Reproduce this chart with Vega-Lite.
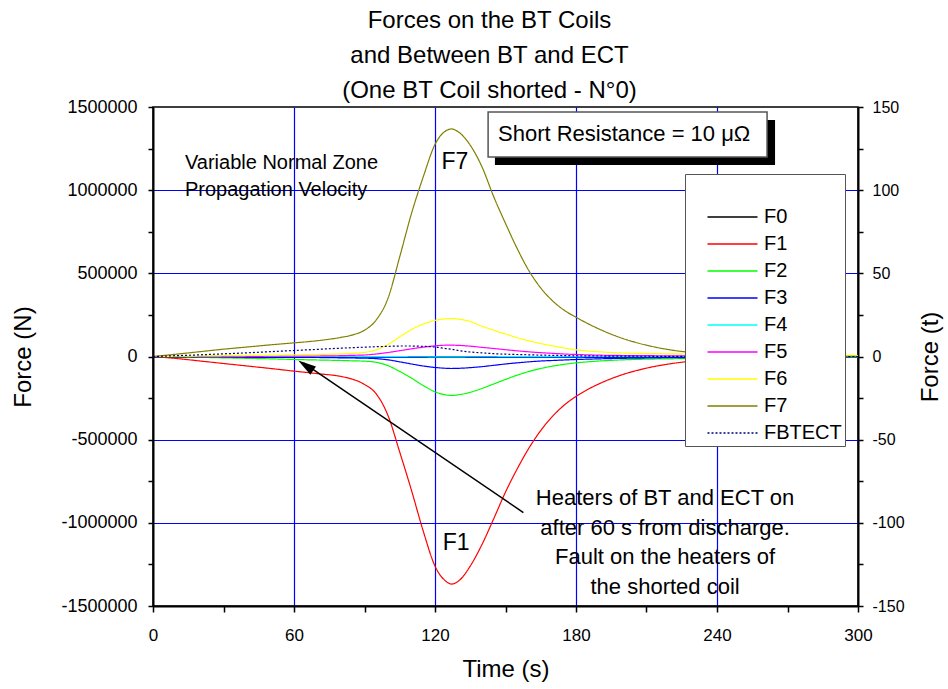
{
  "$schema": "https://vega.github.io/schema/vega-lite/v6.json",
  "width": 705,
  "height": 499,
  "autosize": {"type": "none"},
  "padding": {"left": 153, "top": 107, "right": 90, "bottom": 83},
  "background": "white",
  "title": {
    "text": ["Forces on the BT Coils", "and Between BT and ECT", "(One BT Coil shorted - N°0)"],
    "font": "Liberation Sans",
    "fontSize": 24,
    "fontWeight": "normal",
    "color": "#000",
    "anchor": "middle",
    "dx": -16,
    "offset": -5,
    "lineHeight": 35
  },
  "config": {
    "font": "Liberation Sans",
    "view": {"stroke": "#000", "strokeWidth": 1.5},
    "axis": {
      "domainColor": "#000",
      "domainWidth": 2,
      "tickColor": "#000",
      "tickWidth": 1.5,
      "labelColor": "#000",
      "titleColor": "#000",
      "titleFontWeight": "normal",
      "labelFont": "Liberation Sans",
      "titleFont": "Liberation Sans",
      "gridColor": "#0000ff",
      "gridWidth": 1.2
    },
    "legend": {
      "fillColor": "#ffffff",
      "strokeColor": "#555555",
      "padding": 3,
      "labelFont": "Liberation Sans",
      "labelFontSize": 20,
      "labelColor": "#000",
      "symbolType": "M-5,0H5",
      "symbolSize": 100,
      "symbolStrokeWidth": 1.5,
      "symbolOffset": 34.5,
      "labelOffset": 21.5,
      "rowPadding": 7,
      "titleFontSize": 19,
      "titlePadding": 11,
      "labelLimit": 300,
      "titleLimit": 400
    }
  },
  "datasets": {
    "forces": [
      {"t": 0, "F0": 0, "F1": 0, "F2": 0, "F3": 0, "F4": 0, "F5": 0, "F6": 0, "F7": 0, "FBTECT": 0},
      {"t": 10, "F0": 0, "F1": -12000, "F2": -2000, "F3": -1000, "F4": 0, "F5": 0, "F6": 1500, "F7": 14000, "FBTECT": 5000},
      {"t": 20, "F0": 0, "F1": -27000, "F2": -5000, "F3": -2000, "F4": 0, "F5": 0, "F6": 3000, "F7": 29000, "FBTECT": 10000},
      {"t": 30, "F0": 0, "F1": -42000, "F2": -8000, "F3": -2500, "F4": 0, "F5": 500, "F6": 4500, "F7": 44000, "FBTECT": 16000},
      {"t": 40, "F0": 0, "F1": -57000, "F2": -11000, "F3": -3000, "F4": 0, "F5": 1000, "F6": 6000, "F7": 57000, "FBTECT": 22000},
      {"t": 50, "F0": 0, "F1": -72000, "F2": -14000, "F3": -4000, "F4": 0, "F5": 1500, "F6": 8000, "F7": 70000, "FBTECT": 29000},
      {"t": 60, "F0": 0, "F1": -88000, "F2": -18000, "F3": -5000, "F4": 0, "F5": 2000, "F6": 10000, "F7": 82000, "FBTECT": 36000},
      {"t": 70, "F0": 0, "F1": -103000, "F2": -21000, "F3": -6000, "F4": 0, "F5": 3000, "F6": 12000, "F7": 95000, "FBTECT": 43000},
      {"t": 80, "F0": 0, "F1": -120000, "F2": -24000, "F3": -8000, "F4": 0, "F5": 5000, "F6": 16000, "F7": 115000, "FBTECT": 50000},
      {"t": 85, "F0": 0, "F1": -137000, "F2": -26000, "F3": -9000, "F4": 0, "F5": 7000, "F6": 19000, "F7": 130000, "FBTECT": 53000},
      {"t": 90, "F0": 0, "F1": -168000, "F2": -28000, "F3": -10000, "F4": -500, "F5": 9000, "F6": 25000, "F7": 158000, "FBTECT": 56000},
      {"t": 95, "F0": 0, "F1": -225000, "F2": -35000, "F3": -13000, "F4": -500, "F5": 15000, "F6": 40000, "F7": 220000, "FBTECT": 59000},
      {"t": 100, "F0": 0, "F1": -355000, "F2": -55000, "F3": -20000, "F4": -1000, "F5": 24000, "F6": 72000, "F7": 350000, "FBTECT": 61000},
      {"t": 105, "F0": 0, "F1": -575000, "F2": -90000, "F3": -32000, "F4": -1000, "F5": 35000, "F6": 118000, "F7": 600000, "FBTECT": 63000},
      {"t": 110, "F0": 0, "F1": -805000, "F2": -130000, "F3": -45000, "F4": -1500, "F5": 46000, "F6": 162000, "F7": 860000, "FBTECT": 63000},
      {"t": 115, "F0": 0, "F1": -1050000, "F2": -175000, "F3": -57000, "F4": -1500, "F5": 56000, "F6": 195000, "F7": 1080000, "FBTECT": 61000},
      {"t": 120, "F0": 0, "F1": -1260000, "F2": -212000, "F3": -66000, "F4": -2000, "F5": 64000, "F6": 217000, "F7": 1275000, "FBTECT": 57000},
      {"t": 125, "F0": 0, "F1": -1355000, "F2": -232000, "F3": -71000, "F4": -2000, "F5": 68000, "F6": 227000, "F7": 1360000, "FBTECT": 47000},
      {"t": 127, "F0": 0, "F1": -1368000, "F2": -234000, "F3": -72000, "F4": -2000, "F5": 68000, "F6": 228000, "F7": 1368000, "FBTECT": 44000},
      {"t": 130, "F0": 0, "F1": -1350000, "F2": -230000, "F3": -71000, "F4": -2000, "F5": 67000, "F6": 225000, "F7": 1350000, "FBTECT": 36000},
      {"t": 135, "F0": 0, "F1": -1260000, "F2": -215000, "F3": -67000, "F4": -1500, "F5": 62000, "F6": 210000, "F7": 1270000, "FBTECT": 27000},
      {"t": 140, "F0": 0, "F1": -1130000, "F2": -192000, "F3": -61000, "F4": -1500, "F5": 55000, "F6": 182000, "F7": 1140000, "FBTECT": 22000},
      {"t": 145, "F0": 0, "F1": -975000, "F2": -165000, "F3": -53000, "F4": -1500, "F5": 48000, "F6": 158000, "F7": 960000, "FBTECT": 17000},
      {"t": 150, "F0": 0, "F1": -815000, "F2": -138000, "F3": -45000, "F4": -1000, "F5": 41000, "F6": 135000, "F7": 800000, "FBTECT": 14000},
      {"t": 155, "F0": 0, "F1": -675000, "F2": -112000, "F3": -38000, "F4": -1000, "F5": 34000, "F6": 113000, "F7": 648000, "FBTECT": 12000},
      {"t": 160, "F0": 0, "F1": -550000, "F2": -90000, "F3": -32000, "F4": -1000, "F5": 28000, "F6": 94000, "F7": 515000, "FBTECT": 10000},
      {"t": 165, "F0": 0, "F1": -445000, "F2": -72000, "F3": -27000, "F4": -800, "F5": 23000, "F6": 78000, "F7": 412000, "FBTECT": 8500},
      {"t": 170, "F0": 0, "F1": -360000, "F2": -58000, "F3": -24000, "F4": -500, "F5": 19000, "F6": 64000, "F7": 335000, "FBTECT": 7000},
      {"t": 175, "F0": 0, "F1": -292000, "F2": -47000, "F3": -21000, "F4": -500, "F5": 15000, "F6": 51000, "F7": 278000, "FBTECT": 5500},
      {"t": 180, "F0": 0, "F1": -240000, "F2": -38000, "F3": -18000, "F4": -500, "F5": 12000, "F6": 40000, "F7": 236000, "FBTECT": 4000},
      {"t": 185, "F0": 0, "F1": -198000, "F2": -32000, "F3": -16000, "F4": 0, "F5": 10000, "F6": 33000, "F7": 198000, "FBTECT": 3500},
      {"t": 190, "F0": 0, "F1": -163000, "F2": -27000, "F3": -14000, "F4": 0, "F5": 8000, "F6": 28000, "F7": 164000, "FBTECT": 3000},
      {"t": 200, "F0": 0, "F1": -108000, "F2": -20000, "F3": -11000, "F4": 0, "F5": 6000, "F6": 21000, "F7": 108000, "FBTECT": 2000},
      {"t": 210, "F0": 0, "F1": -70000, "F2": -16000, "F3": -9000, "F4": 0, "F5": 5000, "F6": 18000, "F7": 68000, "FBTECT": 1500},
      {"t": 220, "F0": 0, "F1": -44000, "F2": -14000, "F3": -7000, "F4": 0, "F5": 4000, "F6": 16000, "F7": 40000, "FBTECT": 1000},
      {"t": 230, "F0": 0, "F1": -27000, "F2": -12000, "F3": -6000, "F4": 0, "F5": 3500, "F6": 14500, "F7": 23000, "FBTECT": 800},
      {"t": 240, "F0": 0, "F1": -17000, "F2": -10000, "F3": -5000, "F4": 0, "F5": 3000, "F6": 13000, "F7": 13000, "FBTECT": 500},
      {"t": 260, "F0": 0, "F1": -7000, "F2": -7000, "F3": -3500, "F4": 0, "F5": 2000, "F6": 10000, "F7": 5000, "FBTECT": 200},
      {"t": 280, "F0": 0, "F1": -3000, "F2": -5000, "F3": -2500, "F4": 0, "F5": 1500, "F6": 8000, "F7": 2000, "FBTECT": 0},
      {"t": 300, "F0": 0, "F1": -1000, "F2": -3000, "F3": -1500, "F4": 0, "F5": 1000, "F6": 6000, "F7": 1000, "FBTECT": 0}
    ]
  },
  "layer": [
    {
      "layer": [
        {
          "data": {"values": [{}]},
          "mark": {"type": "rect", "fill": "#000"},
          "encoding": {
            "x": {"datum": 145.5, "type": "quantitative"},
            "x2": {"datum": 264.7},
            "y": {"datum": 1422000, "type": "quantitative"},
            "y2": {"datum": 1152000}
          }
        },
        {
          "data": {"values": [{}]},
          "mark": {"type": "rect", "fill": "#fff", "stroke": "#555", "strokeWidth": 1.5},
          "encoding": {
            "x": {"datum": 142.6, "type": "quantitative"},
            "x2": {"datum": 261.3},
            "y": {"datum": 1470000, "type": "quantitative"},
            "y2": {"datum": 1200000}
          }
        },
        {
          "data": {"values": [{}]},
          "mark": {"type": "text", "text": "Short Resistance = 10 μΩ", "fontSize": 22, "font": "Liberation Sans", "color": "#000", "align": "center", "baseline": "middle"},
          "encoding": {
            "x": {"datum": 200.5, "type": "quantitative"},
            "y": {"datum": 1338000, "type": "quantitative"}
          }
        },
        {
          "data": {"name": "forces"},
          "transform": [{"fold": ["F0", "F1", "F2", "F3", "F4", "F5", "F6", "F7", "FBTECT"], "as": ["series", "value"]}],
          "mark": {"type": "line", "strokeWidth": 1.2, "interpolate": "monotone"},
          "encoding": {
            "x": {
              "field": "t",
              "type": "quantitative",
              "scale": {"domain": [0, 300], "nice": false, "zero": false},
              "axis": {
                "orient": "bottom",
                "title": "Time (s)",
                "titleFontSize": 24,
                "titlePadding": 14,
                "values": [0, 30, 60, 90, 120, 150, 180, 210, 240, 270, 300],
                "labelExpr": "datum.value % 60 === 0 ? '' + datum.value : ''",
                "labelFont": "Liberation Sans Narrow, Liberation Sans",
                "labelFontSize": 17,
                "labelPadding": 15,
                "tickSize": 6,
                "labelFlush": false,
                "labelOverlap": false,
                "grid": true,
                "gridOpacity": {"condition": {"test": "datum.value % 60 !== 0 || datum.value === 0 || datum.value === 300", "value": 0}, "value": 1}
              }
            },
            "y": {
              "field": "value",
              "type": "quantitative",
              "scale": {"domain": [-1500000, 1500000], "nice": false},
              "axis": {
                "orient": "left",
                "title": "Force (N)",
                "titleFontSize": 24,
                "titlePadding": 25,
                "values": [-1500000, -1250000, -1000000, -750000, -500000, -250000, 0, 250000, 500000, 750000, 1000000, 1250000, 1500000],
                "labelExpr": "datum.value % 500000 === 0 ? '' + datum.value : ''",
                "labelFontSize": 18,
                "labelPadding": 11,
                "tickSize": 5,
                "labelFlush": false,
                "labelOverlap": false,
                "grid": true,
                "gridOpacity": {"condition": {"test": "datum.value % 500000 !== 0 || abs(datum.value) === 1500000", "value": 0}, "value": 1}
              }
            },
            "color": {
              "field": "series",
              "type": "nominal",
              "scale": {
                "domain": ["F0", "F1", "F2", "F3", "F4", "F5", "F6", "F7", "FBTECT"],
                "range": ["#000000", "#ff0000", "#00ff00", "#0000ff", "#00ffff", "#ff00ff", "#ffff00", "#808000", "#000080"]
              },
              "legend": {"orient": "none", "legendX": 532, "legendY": 67, "title": "\u00a0\u00a0\u00a0\u00a0\u00a0\u00a0\u00a0\u00a0\u00a0\u00a0\u00a0\u00a0\u00a0\u00a0\u00a0\u00a0\u00a0\u00a0\u00a0\u00a0\u00a0\u00a0\u00a0\u00a0\u00a0\u00a0\u00a0\u00a0\u00a0", "symbolType": "M-5,0H5"}
            },
            "strokeDash": {
              "field": "series",
              "type": "nominal",
              "scale": {
                "domain": ["F0", "F1", "F2", "F3", "F4", "F5", "F6", "F7", "FBTECT"],
                "range": [[1, 0], [1, 0], [1, 0], [1, 0], [1, 0], [1, 0], [1, 0], [1, 0], [2, 2]]
              },
              "legend": {"orient": "none", "legendX": 532, "legendY": 67, "title": "\u00a0\u00a0\u00a0\u00a0\u00a0\u00a0\u00a0\u00a0\u00a0\u00a0\u00a0\u00a0\u00a0\u00a0\u00a0\u00a0\u00a0\u00a0\u00a0\u00a0\u00a0\u00a0\u00a0\u00a0\u00a0\u00a0\u00a0\u00a0\u00a0", "symbolType": "M-5,0H5"}
            }
          }
        },
        {
          "data": {"values": [{}]},
          "mark": {"type": "text", "text": "F7", "fontSize": 23, "font": "Liberation Sans", "color": "#000", "align": "center", "baseline": "middle"},
          "encoding": {
            "x": {"datum": 128.5, "type": "quantitative"},
            "y": {"datum": 1172000, "type": "quantitative"}
          }
        },
        {
          "data": {"values": [{}]},
          "mark": {"type": "text", "text": "F1", "fontSize": 23, "font": "Liberation Sans", "color": "#000", "align": "center", "baseline": "middle"},
          "encoding": {
            "x": {"datum": 129, "type": "quantitative"},
            "y": {"datum": -1122000, "type": "quantitative"}
          }
        },
        {
          "data": {"values": [{}]},
          "mark": {"type": "text", "text": ["Variable Normal Zone", "Propagation Velocity"], "lineHeight": 27, "fontSize": 20, "font": "Liberation Sans", "color": "#000", "align": "left", "baseline": "alphabetic"},
          "encoding": {
            "x": {"datum": 13.6, "type": "quantitative"},
            "y": {"datum": 1128000, "type": "quantitative"}
          }
        },
        {
          "data": {"values": [{}]},
          "mark": {"type": "text", "text": ["Heaters of BT and ECT on", "after 60 s from discharge.", "Fault on the heaters of", "the shorted coil"], "lineHeight": 29.5, "fontSize": 22, "font": "Liberation Sans", "color": "#000", "align": "center", "baseline": "alphabetic"},
          "encoding": {
            "x": {"datum": 217.9, "type": "quantitative"},
            "y": {"datum": -894000, "type": "quantitative"}
          }
        },
        {
          "data": {"values": [{}]},
          "mark": {"type": "rule", "color": "#000", "strokeWidth": 1.5},
          "encoding": {
            "x": {"datum": 157.6, "type": "quantitative"},
            "y": {"datum": -938000, "type": "quantitative"},
            "x2": {"datum": 64},
            "y2": {"datum": -38000}
          }
        },
        {
          "data": {"values": [{}]},
          "mark": {"type": "point", "shape": "M0,0L-0.28,1L0.28,1Z", "filled": true, "color": "#000", "opacity": 1, "size": 1296, "angle": 304, "strokeWidth": 0},
          "encoding": {
            "x": {"datum": 61.8, "type": "quantitative"},
            "y": {"datum": -24000, "type": "quantitative"}
          }
        }
      ]
    },
    {
      "data": {"values": [{}]},
      "mark": {"type": "rule", "opacity": 0},
      "encoding": {
        "y": {
          "datum": 0,
          "type": "quantitative",
          "scale": {"domain": [-150, 150], "nice": false},
          "axis": {
            "orient": "right",
            "title": "Force (t)",
            "titleFontSize": 24,
            "titleAngle": 270,
            "titlePadding": 38,
            "values": [-150, -125, -100, -75, -50, -25, 0, 25, 50, 75, 100, 125, 150],
            "labelExpr": "datum.value % 50 === 0 ? '' + datum.value : ''",
            "labelFontSize": 16,
            "labelPadding": 9,
            "tickSize": 5,
            "labelFlush": false,
            "labelOverlap": false,
            "grid": false
          }
        }
      }
    }
  ],
  "resolve": {"scale": {"y": "independent"}}
}
